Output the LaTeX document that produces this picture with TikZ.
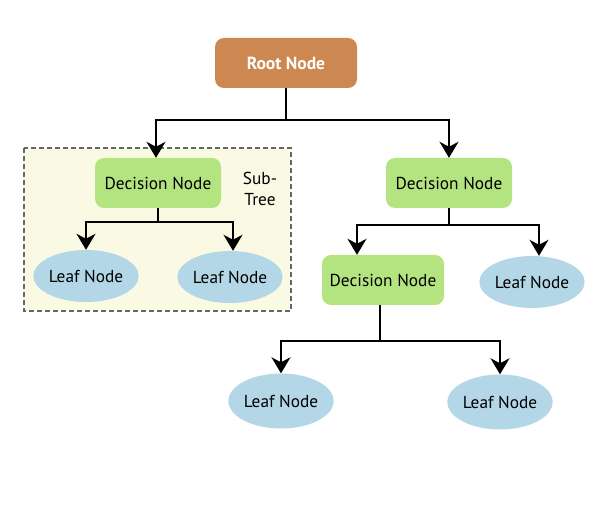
\documentclass[tikz,border=0pt]{standalone}
\usepackage{fontspec}
\setmainfont{PT Sans}
\usetikzlibrary{arrows.meta,shapes.geometric}
\definecolor{rootc}{RGB}{205,135,80}
\definecolor{decc}{RGB}{179,228,128}
\definecolor{leafc}{RGB}{180,215,232}
\definecolor{subc}{RGB}{250,250,228}

\begin{document}
\begin{tikzpicture}[x=1pt,y=-1pt,
  lbl/.style={font=\fontsize{17.3}{21}\selectfont},
  rootbox/.style={rectangle,rounded corners=9pt,fill=rootc,text=white,
    font=\fontsize{17.5}{21}\selectfont\bfseries,minimum width=142pt,minimum height=50pt},
  decbox/.style={lbl,rectangle,rounded corners=9pt,fill=decc,
    minimum width=126pt,minimum height=50pt},
  leaf/.style={lbl,ellipse,fill=leafc,minimum width=101pt,minimum height=52pt,inner sep=0pt},
  link/.style={line width=2pt,-{Stealth[length=16pt,width=19pt,inset=5pt]}}]
  \useasboundingbox[fill=white] (0,0) rectangle (611,505);
  % sub-tree frame
  \draw[fill=subc,draw=black!60,line width=1.2pt,dash pattern=on 5pt off 3pt]
    (24,148) rectangle (291,311);
  \node[lbl,align=center] (subtree) at (260,189) {Sub-\\Tree};
  % nodes
  \node[rootbox] (root) at (286,63) {Root Node};
  \node[decbox] (dec1) at (158,183) {Decision Node};
  \node[decbox] (dec2) at (449,183) {Decision Node};
  \node[decbox,minimum width=122pt] (dec3) at (383,280) {Decision Node};
  \node[leaf] (leaf1) at (86,276) {Leaf Node};
  \node[leaf] (leaf2) at (230,277) {Leaf Node};
  \node[leaf] (leaf3) at (532,282) {Leaf Node};
  \node[leaf,minimum height=55pt] (leaf4) at (281,401) {Leaf Node};
  \node[leaf,minimum height=55pt] (leaf5) at (500,402) {Leaf Node};
  % connectors
  \draw[link] (root.south) -- ++(0,32) -| ([xshift=-2pt]dec1.north);
  \draw[link] (root.south) -- ++(0,32) -| (dec2.north);
  \draw[link] (dec1.south) -- ++(0,14) -| (leaf1.north);
  \draw[link] (dec1.south) -- ++(0,14) -| ([xshift=3pt]leaf2.north);
  \draw[link] (dec2.south) -- ++(0,17) -| ([xshift=-26pt]dec3.north);
  \draw[link] (dec2.south) -- ++(0,17) -| ([xshift=7pt]leaf3.north);
  \draw[link] ([xshift=-3pt]dec3.south) -- ++(0,36) -| (leaf4.north);
  \draw[link] ([xshift=-3pt]dec3.south) -- ++(0,36) -| (leaf5.north);
\end{tikzpicture}
\end{document}
